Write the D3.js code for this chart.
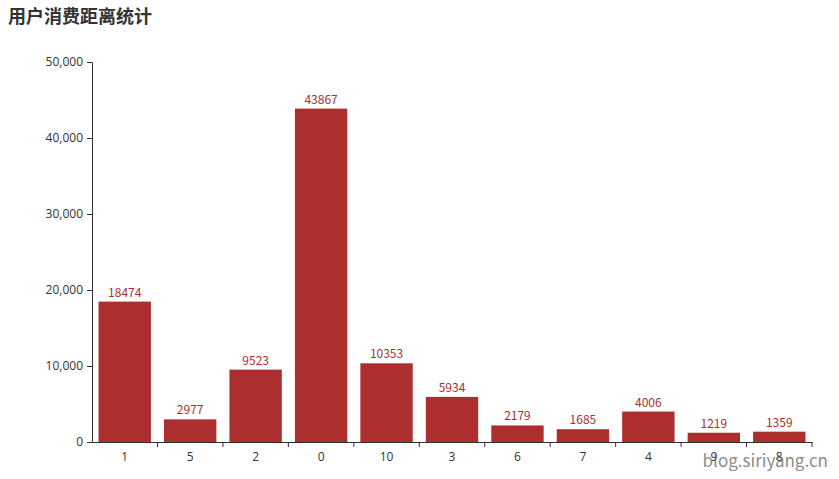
<!DOCTYPE html>
<html>
<head>
<meta charset="utf-8">
<script src="https://cdn.jsdelivr.net/npm/d3@7"></script>
<style>
  body { margin: 0; background: #fff; }
  text { font-family: "Microsoft YaHei", "Noto Sans CJK SC", "Open Sans", sans-serif; }
</style>
</head>
<body>
<div id="chart"></div>
<script>
const categories = ['1', '5', '2', '0', '10', '3', '6', '7', '4', '9', '8']
const values = [18474, 2977, 9523, 43867, 10353, 5934, 2179, 1685, 4006, 1219, 1359]
const yTicks = [0, 10000, 20000, 30000, 40000, 50000]

const width = 839
const height = 479
const margin = { top: 62, left: 92, right: 27, bottom: 37 }

const svg = d3.select('#chart')
  .append('svg')
  .attr('width', width)
  .attr('height', height)

// title
svg.append('text')
  .attr('x', 8)
  .attr('y', 23)
  .attr('font-size', 18)
  .attr('font-weight', 'bold')
  .attr('fill', '#333')
  .text('用户消费距离统计')

const x = d3.scaleBand()
  .domain(categories)
  .range([margin.left, width - margin.right])
  .paddingInner(0.2)
  .paddingOuter(0.1)

const xTickScale = d3.scaleBand()
  .domain(categories)
  .range([margin.left, width - margin.right])

const y = d3.scaleLinear()
  .domain([0, 50000])
  .range([height - margin.bottom, margin.top])

const fmt = d3.format(',')

// y axis
const yAxis = svg.append('g')
  .attr('transform', `translate(${margin.left},0)`)
  .call(d3.axisLeft(y).tickValues(yTicks).tickFormat(fmt).tickSize(5).tickPadding(4))
yAxis.select('.domain').attr('stroke', '#333')
yAxis.selectAll('.tick line').attr('stroke', '#333')
yAxis.selectAll('.tick text').attr('fill', '#333').attr('font-size', 12)
  .style('font-family', '"Microsoft YaHei", "Open Sans", sans-serif')

// x axis, ticks on band boundaries
const xAxis = svg.append('g')
  .attr('transform', `translate(0,${height - margin.bottom})`)
  .call(d3.axisBottom(xTickScale).tickSize(0).tickPadding(10))
xAxis.select('.domain').attr('stroke', '#333')
xAxis.selectAll('.tick text').attr('fill', '#333').attr('font-size', 12)
  .style('font-family', '"Microsoft YaHei", "Open Sans", sans-serif')

svg.append('g')
  .selectAll('line')
  .data(categories)
  .enter()
  .append('line')
  .attr('x1', d => xTickScale(d) + xTickScale.bandwidth())
  .attr('x2', d => xTickScale(d) + xTickScale.bandwidth())
  .attr('y1', height - margin.bottom)
  .attr('y2', height - margin.bottom + 5)
  .attr('stroke', '#333')

// bars
svg.append('g')
  .selectAll('rect')
  .data(values)
  .enter()
  .append('rect')
  .attr('x', (d, i) => x(categories[i]))
  .attr('y', d => y(d))
  .attr('width', x.bandwidth())
  .attr('height', d => y(0) - y(d))
  .attr('fill', '#ad2e2e')

// labels
svg.append('g')
  .selectAll('text')
  .data(values)
  .enter()
  .append('text')
  .attr('x', (d, i) => x(categories[i]) + x.bandwidth() / 2)
  .attr('y', d => y(d) - 5)
  .attr('text-anchor', 'middle')
  .attr('font-size', 12)
  .attr('fill', '#ad2e2e')
  .text(d => d)

// watermark
svg.append('text')
  .attr('x', 828)
  .attr('y', 467)
  .attr('text-anchor', 'end')
  .attr('font-size', 17)
  .attr('fill', '#666')
  .attr('opacity', 0.75)
  .text('blog.siriyang.cn')
</script>
</body>
</html>
